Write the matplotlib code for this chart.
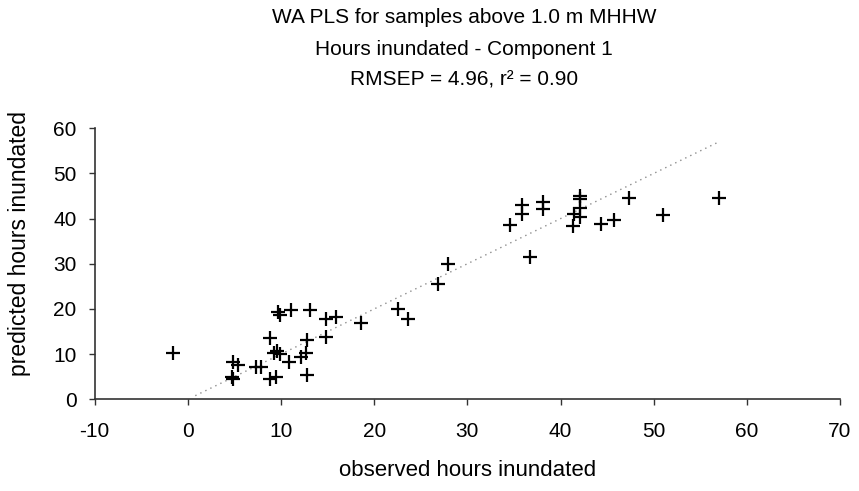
import matplotlib
matplotlib.use("Agg")
import matplotlib.pyplot as plt

plt.rcParams['font.family'] = ['Liberation Sans', 'DejaVu Sans']
plt.rcParams['axes.unicode_minus'] = False

# observed vs predicted hours inundated
observed = [-1.6, 4.7, 4.8, 4.9, 5.4, 7.3, 7.9, 8.8, 9.5, 8.8, 9.3, 9.6, 9.9,
            9.7, 9.9, 10.9, 11.1, 12.2, 12.7, 12.8, 12.8, 13.1, 14.8, 14.8,
            15.9, 18.6, 22.6, 23.6, 26.8, 27.9,
            34.6, 35.9, 35.9, 38.1, 38.1, 42.1, 42.1, 42.1, 41.4, 42.1, 41.3,
            44.3, 45.7, 47.4, 51.0, 57.0, 36.7]
predicted = [10.3, 5.0, 4.5, 8.2, 7.6, 7.2, 7.2, 4.4, 4.9, 13.5, 10.2, 10.8, 10.1,
             19.4, 18.7, 8.3, 19.8, 9.4, 10.2, 13.2, 5.4, 19.8, 13.9, 17.7,
             18.2, 17.0, 20.1, 17.8, 25.5, 29.9,
             38.6, 43.0, 41.1, 43.7, 42.1, 45.1, 44.4, 42.4, 41.0, 40.4, 38.4,
             38.9, 39.7, 44.5, 40.9, 44.5, 31.6]

# 1:1 reference line
line_x = [0.8, 57.0]
line_y = [0.8, 57.0]

x_ticks = [-10, 0, 10, 20, 30, 40, 50, 60, 70]
y_ticks = [0, 10, 20, 30, 40, 50, 60]

title_lines = ["WA PLS for samples above 1.0 m MHHW",
               "Hours inundated - Component 1",
               "RMSEP = 4.96, r² = 0.90"]

fig = plt.figure(figsize=(8.59, 4.91), dpi=100)
ax = fig.add_axes([0.1102, 0.1868, 0.8677, 0.5519])

ax.plot(line_x, line_y, linestyle=(0, (1, 3)), color='#8c8c8c', linewidth=1.0)
ax.plot(observed, predicted, linestyle='none', marker='+', color='black',
        markersize=10, markeredgewidth=1.6)

ax.set_xlim(-10, 70)
ax.set_ylim(0, 60)
ax.set_xticks(x_ticks)
ax.set_yticks(y_ticks)
ax.tick_params(axis='both', labelsize=15, length=4, width=1, direction='out',
               color='#333333')
ax.tick_params(axis='x', pad=12)
ax.tick_params(axis='y', pad=9)
for s in ['top', 'right']:
    ax.spines[s].set_visible(False)
for s in ['left', 'bottom']:
    ax.spines[s].set_color('#333333')
    ax.spines[s].set_linewidth(1.2)

ax.set_xlabel("observed hours inundated", fontsize=16, labelpad=14)
ax.set_ylabel("predicted hours inundated", fontsize=16.5)
ax.yaxis.set_label_coords(-0.085, 0.575)

title_y = [0.965, 0.900, 0.838]
for t, yy in zip(title_lines, title_y):
    fig.text(0.54, yy, t, ha='center', va='center', fontsize=15)

fig.savefig("out.png", dpi=100)
